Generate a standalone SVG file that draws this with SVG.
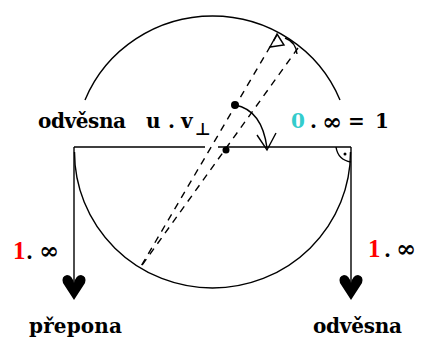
<svg xmlns="http://www.w3.org/2000/svg" width="425" height="338" viewBox="0 0 425 338">
<defs>
<style>
.ln{fill:none;stroke:#000;stroke-width:1.4}
.dash{fill:none;stroke:#000;stroke-width:1.4;stroke-dasharray:7 6}
.t{font-family:"DejaVu Serif","Liberation Serif",serif;font-weight:bold;font-size:20px;fill:#000}
.inf{font-family:"DejaVu Serif","Liberation Serif",serif;font-weight:bold;font-size:24px;fill:#000}
.red{font-family:"Liberation Serif",serif;font-weight:bold;fill:#ff0000;font-size:25px}
.teal{fill:#33cccc}
</style>
<path id="head" d="M0,25 L-11,8 Q-13,1 -7,0 Q-2,0 0,8 Q2,0 7,0 Q13,1 11,8 Z" fill="#000"/>
</defs>
<rect width="425" height="338" fill="#fff"/>
<g id="circle">
<path class="ln" d="M85,100 A138,136 0 0 1 340,100"/>
<path class="ln" d="M74.5,152 A138,136 0 0 0 350.5,152"/>
</g>
<g id="connectors">
<path class="ln" d="M74,147 H205 M218,147 H351"/>
<path class="ln" d="M74,147 V285"/>
<path class="ln" d="M351,147 V285"/>
<use href="#head" x="74" y="275"/>
<use href="#head" x="351" y="275"/>
<path class="dash" d="M277,35 L140,268"/>
<path class="dash" d="M298,48 L140,268"/>
<path class="ln" d="M235,105 Q262,110 267,148"/>
<path class="ln" d="M257,135 L267,150 L276,133"/>
<path class="ln" d="M336,147 Q338,160 351,162"/>
<circle cx="345" cy="154" r="1.5" fill="#000"/>
<path class="ln" d="M277,34 L270,47 L284,45 Z"/>
<path class="ln" d="M285,38 Q296,42 297,54" stroke-width="1"/>
<circle cx="235" cy="105" r="4" fill="#000"/>
<circle cx="226" cy="150" r="3.5" fill="#000"/>
</g>
<g id="labels">
<text class="t" x="38" y="128" textLength="88" lengthAdjust="spacing">odvěsna</text>
<text class="t" y="128"><tspan x="146">u</tspan><tspan x="168">.</tspan><tspan x="181">v</tspan></text>
<text x="195" y="135" font-family="DejaVu Sans, sans-serif" font-weight="bold" font-size="17">⊥</text>
<text class="t teal" x="291" y="128">0</text>
<text class="t" x="310" y="128">.</text>
<text class="inf" x="322" y="130">∞</text>
<text class="t" y="128"><tspan x="348">=</tspan><tspan x="375">1</tspan></text>
<text class="red" x="13" y="259">1</text>
<text class="t" x="26" y="259">.</text>
<text class="inf" x="39" y="259">∞</text>
<text class="red" x="368" y="257">1</text>
<text class="t" x="384" y="257">.</text>
<text class="inf" x="396" y="257">∞</text>
<text class="t" x="29" y="333" textLength="93" lengthAdjust="spacing">přepona</text>
<text class="t" x="313" y="333" textLength="89" lengthAdjust="spacing">odvěsna</text>
</g>
</svg>
